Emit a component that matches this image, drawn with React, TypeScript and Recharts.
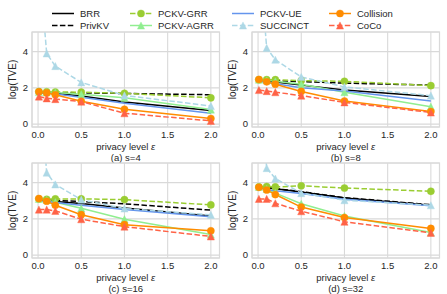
import React from 'react';
import { LineChart, Line, XAxis, YAxis, CartesianGrid } from 'recharts';

const EPS = [0.01, 0.1, 0.2, 0.5, 1.0, 2.0];
const X_TICKS = [0, 0.5, 1, 1.5, 2];
const Y_TICKS = [0, 2, 4];
const PANEL_TITLES = ['(a) s=4', '(b) s=8', '(c) s=16', '(d) s=32'];
const SERIES_NAMES = ['BRR', 'PrivKV', 'PCKV-GRR', 'PCKV-AGRR', 'PCKV-UE', 'SUCCINCT', 'Collision', 'CoCo'];

// s = 4
const BRR_4 = [1.76, 1.73, 1.7, 1.55, 1.22, 0.75];
const PRIVKV_4 = [1.74, 1.74, 1.73, 1.72, 1.69, 1.62];
const GRR_4 = [1.79, 1.78, 1.77, 1.76, 1.7, 1.45];
const AGRR_4 = [1.77, 1.76, 1.74, 1.65, 1.45, 0.8];
const UE_4 = [1.75, 1.71, 1.66, 1.48, 1.15, 0.6];
const SUCC_4 = [9.0, 3.9, 3.2, 2.3, 1.58, 1.0];
const COLL_4 = [1.78, 1.72, 1.62, 1.26, 0.82, 0.31];
const COCO_4 = [1.52, 1.42, 1.38, 1.24, 0.6, 0.18];

// s = 8
const BRR_8 = [2.4, 2.37, 2.32, 2.15, 1.88, 1.52];
const PRIVKV_8 = [2.42, 2.41, 2.4, 2.34, 2.26, 2.15];
const GRR_8 = [2.45, 2.45, 2.45, 2.4, 2.36, 2.12];
const AGRR_8 = [2.45, 2.42, 2.36, 2.2, 1.76, 0.96];
const UE_8 = [2.36, 2.3, 2.22, 2.0, 1.82, 1.27];
const SUCC_8 = [9.5, 4.2, 3.55, 2.6, 2.05, 1.57];
const COLL_8 = [2.46, 2.33, 2.2, 1.8, 1.27, 0.69];
const COCO_8 = [1.88, 1.82, 1.76, 1.57, 1.2, 0.64];

// s = 16
const BRR_16 = [3.05, 3.0, 2.95, 2.85, 2.6, 2.15];
const PRIVKV_16 = [3.07, 3.05, 3.02, 2.95, 2.83, 2.48];
const GRR_16 = [3.1, 3.08, 3.1, 3.1, 3.06, 2.77];
const AGRR_16 = [3.1, 3.05, 2.92, 2.58, 1.98, 1.13];
const UE_16 = [3.0, 2.95, 2.9, 2.75, 2.52, 2.12];
const SUCC_16 = [10, 4.55, 3.9, 3.06, 2.57, 2.22];
const COLL_16 = [3.12, 2.97, 2.75, 2.23, 1.68, 1.34];
const COCO_16 = [2.51, 2.51, 2.44, 1.98, 1.57, 1.03];

// s = 32
const BRR_32 = [3.78, 3.72, 3.66, 3.48, 3.15, 2.75];
const PRIVKV_32 = [3.78, 3.73, 3.67, 3.5, 3.17, 2.78];
const GRR_32 = [3.76, 3.78, 3.76, 3.82, 3.7, 3.52];
const AGRR_32 = [3.76, 3.65, 3.42, 2.83, 2.16, 1.25];
const UE_32 = [3.7, 3.62, 3.55, 3.4, 3.08, 2.72];
const SUCC_32 = [10, 4.8, 4.22, 3.42, 3.03, 2.75];
const COLL_32 = [3.74, 3.59, 3.34, 2.65, 2.07, 1.47];
const COCO_32 = [3.1, 3.1, 2.86, 2.42, 1.84, 1.23];

const PANELS = [
  [BRR_4, PRIVKV_4, GRR_4, AGRR_4, UE_4, SUCC_4, COLL_4, COCO_4],
  [BRR_8, PRIVKV_8, GRR_8, AGRR_8, UE_8, SUCC_8, COLL_8, COCO_8],
  [BRR_16, PRIVKV_16, GRR_16, AGRR_16, UE_16, SUCC_16, COLL_16, COCO_16],
  [BRR_32, PRIVKV_32, GRR_32, AGRR_32, UE_32, SUCC_32, COLL_32, COCO_32],
];

const FONT = '"Liberation Sans", Arial, sans-serif';
const TEXT = '#262626';
const GRID = '#d9d9d9';

type Style = { color: string; dash?: string; marker?: 'circle' | 'triangle' };
const STYLES: Style[] = [
  { color: '#000000' },
  { color: '#000000', dash: '5.5 2.4' },
  { color: '#9acd32', dash: '5.5 2.4', marker: 'circle' },
  { color: '#90ee90', marker: 'triangle' },
  { color: '#6495ed' },
  { color: '#add8e6', dash: '5.5 2.4', marker: 'triangle' },
  { color: '#ff8c00', marker: 'circle' },
  { color: '#ff6347', dash: '5.5 2.4', marker: 'triangle' },
];

const Marker = ({ kind, cx, cy, color }: { kind?: string; cx: number; cy: number; color: string }) => {
  if (kind === 'circle') return <circle cx={cx} cy={cy} r={3.6} fill={color} stroke={color} strokeWidth={0.4} />;
  if (kind === 'triangle') {
    const h = 3.6;
    return (
      <polygon
        points={`${cx},${cy - h} ${cx - h},${cy + h} ${cx + h},${cy + h}`}
        fill={color}
        stroke={color}
        strokeWidth={0.4}
      />
    );
  }
  return null;
};

const makeDot = (st: Style) => {
  if (!st.marker) return false;
  return (props: any) => {
    const { cx, cy, index } = props;
    if (cx == null || cy == null) return <g key={`e-${index}`} />;
    return (
      <g key={`d-${index}`}>
        <Marker kind={st.marker} cx={cx} cy={cy} color={st.color} />
      </g>
    );
  };
};

// panel layout: [left, top] of chart container
const POS = [
  [0, 0],
  [220, 0],
  [0, 131],
  [220, 131],
];
const CW = 228;
const CH = 150;
const PLOT_L = 32; // relative
const PLOT_R = 219.5; // relative
const PLOT_T = 32;
const PLOT_B = 127;

const Panel = ({ idx }: { idx: number }) => {
  const series = PANELS[idx];
  const data = EPS.map((x, i) => {
    const row: any = { x };
    series.forEach((arr, k) => {
      row[`s${k}`] = arr[i];
    });
    return row;
  });
  const [left, top] = POS[idx];
  return (
    <div style={{ position: 'absolute', left, top, width: CW, height: CH }}>
      <LineChart
        width={CW}
        height={CH}
        data={data}
        margin={{ top: PLOT_T, right: CW - PLOT_R, left: 0, bottom: 0 }}
      >
        <CartesianGrid stroke={GRID} strokeWidth={1.1} />
        <XAxis
          dataKey="x"
          type="number"
          domain={[-0.07, 2.1]}
          allowDataOverflow
          ticks={X_TICKS}
          tickFormatter={(v: number) => v.toFixed(1)}
          tickLine={false}
          axisLine={false}
          tickSize={0}
          tickMargin={4}
          height={CH - PLOT_B}
          tick={{ fontSize: 9.5, fill: TEXT, fontFamily: FONT }}
        />
        <YAxis
          type="number"
          domain={[-0.16, 5.08]}
          allowDataOverflow
          ticks={Y_TICKS}
          tickLine={false}
          axisLine={false}
          tickSize={0}
          tickMargin={4}
          width={PLOT_L}
          tick={{ fontSize: 9.5, fill: TEXT, fontFamily: FONT }}
        />
        {STYLES.map((st, k) => (
          <Line
            key={k}
            type="linear"
            dataKey={`s${k}`}
            name={SERIES_NAMES[k]}
            stroke={st.color}
            strokeWidth={1.5}
            strokeDasharray={st.dash}
            dot={makeDot(st) as any}
            activeDot={false}
            isAnimationActive={false}
          />
        ))}
      </LineChart>
    </div>
  );
};

const LEGEND_COLS = [52, 130, 232, 329];
const LEGEND_ROWS = [13.5, 25.5];

const Overlay = () => (
  <svg
    width={447}
    height={294}
    style={{ position: 'absolute', left: 0, top: 0, pointerEvents: 'none' }}
    fontFamily={FONT}
  >
    {POS.map(([l, t], i) => (
      <g key={i}>
        <rect
          x={l + PLOT_L}
          y={t + PLOT_T}
          width={PLOT_R - PLOT_L}
          height={PLOT_B - PLOT_T}
          fill="none"
          stroke={GRID}
          strokeWidth={1.2}
        />
        <text
          x={l + (PLOT_L + PLOT_R) / 2}
          y={t + 146}
          fontSize={9.5}
          fill={TEXT}
          textAnchor="middle"
          dominantBaseline="central"
        >
          privacy level <tspan fontStyle="italic">ε</tspan>
        </text>
        <text
          x={l + (PLOT_L + PLOT_R) / 2}
          y={t + 157.5}
          fontSize={9.5}
          fill={TEXT}
          textAnchor="middle"
          dominantBaseline="central"
        >
          {PANEL_TITLES[i]}
        </text>
        <text
          x={l + 12}
          y={t + (PLOT_T + PLOT_B) / 2}
          fontSize={10}
          fill={TEXT}
          textAnchor="middle"
          dominantBaseline="central"
          transform={`rotate(-90 ${l + 12} ${t + (PLOT_T + PLOT_B) / 2})`}
        >
          log(TVE)
        </text>
      </g>
    ))}
    {STYLES.map((st, k) => {
      const col = Math.floor(k / 2);
      const row = k % 2;
      const x0 = LEGEND_COLS[col];
      const y = LEGEND_ROWS[row];
      return (
        <g key={k}>
          <line
            x1={x0}
            y1={y}
            x2={x0 + 22}
            y2={y}
            stroke={st.color}
            strokeWidth={1.5}
            strokeDasharray={st.dash}
          />
          <Marker kind={st.marker} cx={x0 + 11} cy={y} color={st.color} />
          <text x={x0 + 28} y={y} fontSize={9.5} fill={TEXT} dominantBaseline="central">
            {SERIES_NAMES[k]}
          </text>
        </g>
      );
    })}
  </svg>
);

export default function App() {
  return (
    <div style={{ position: 'absolute', left: 0, top: 0, width: 447, height: 294, background: '#fff' }}>
      {[0, 1, 2, 3].map((i) => (
        <Panel key={i} idx={i} />
      ))}
      <Overlay />
    </div>
  );
}
